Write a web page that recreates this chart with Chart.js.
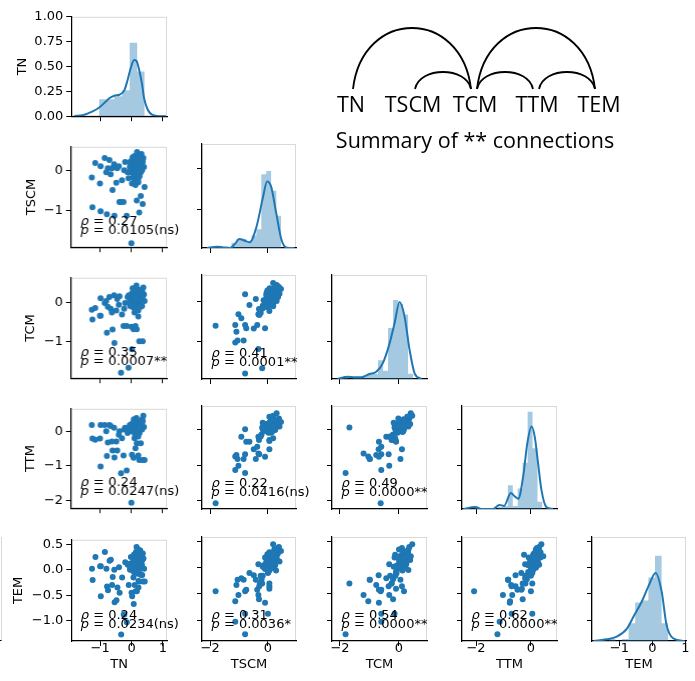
<!DOCTYPE html>
<html>
<head>
<meta charset="utf-8">
<script src="https://cdn.jsdelivr.net/npm/chart.js@4.4.0/dist/chart.umd.min.js"></script>
<style>
  body { margin: 0; background: #fff; width: 695px; height: 681px; position: relative; overflow: hidden; }
  canvas { position: absolute; }
  .edge { position: absolute; left: 0; top: 537px; width: 1px; height: 103px;
    border-right: 1px solid #d9d9d9; border-bottom: 1px solid #000; }
</style>
</head>
<body>
<div class="edge"></div>
<script>
// variables in the pair grid
const vars = ["TN", "TSCM", "TCM", "TTM", "TEM"];

// one value per sample, same sample order in every array
const TN = [0.05, 0.10, 0.15, 0.20, 0.25, 0.30, 0.00, 0.12, 0.18, 0.22,
  0.08, 0.28, 0.35, 0.02, 0.16, 0.26, 0.10, 0.32, 0.20, -0.05,
  0.14, 0.24, 0.06, 0.38, 0.30, 0.18, -0.02, 0.12, 0.22, 0.04,
  0.28, 0.40, 0.16, 0.10, 0.34, -0.08, 0.20, 0.08, 0.23, 0.13,
  0.33, 0.07, 0.19, 0.27, 0.11, 0.36, -0.04, 0.24,
  -1.26, -1.24, -1.15, -0.98, -0.98, -0.85, -0.78, -0.75, -0.80, -0.66,
  -0.60, -0.54, -0.48, -0.45, -0.38, -0.33, -0.25, -0.23, -0.15, -0.09,
  0.00, 0.02, 0.07, 0.13, 0.17, 0.25, 0.30, 0.36, 0.42, -1.00,
  -0.70, -0.55, -0.40, -0.30, -0.20, -0.12, -0.62, 0.22];
const TSCM = [0.10, 0.20, 0.05, 0.30, 0.15, 0.25, 0.00, -0.05, 0.12, 0.38,
  0.28, 0.05, 0.18, 0.15, -0.10, -0.15, 0.35, 0.40, 0.02, 0.08,
  0.22, 0.10, -0.18, 0.30, -0.05, 0.45, 0.22, 0.12, -0.22, 0.32,
  0.35, 0.08, 0.18, -0.28, 0.00, -0.05, 0.25, 0.05, 0.20, 0.08,
  0.12, 0.24, -0.02, 0.28, 0.14, 0.22, 0.18, 0.06,
  -0.18, -0.92, 0.18, 0.10, -1.02, 0.30, -1.09, 0.05, -0.05, -0.10,
  -0.49, -1.13, -0.31, 0.05, -0.79, -0.79, -0.79, 0.00, -1.13, -0.20,
  -1.81, -0.33, -0.10, -0.37, -0.75, -1.05, -0.64, -0.84, -0.42, -0.33,
  0.25, 0.15, 0.10, -0.25, 0.20, -0.05, 0.05, -0.30];
const TCM = [0.15, 0.20, 0.10, 0.25, 0.05, 0.30, 0.00, 0.08, 0.18, 0.35,
  0.12, 0.20, 0.28, 0.25, -0.05, 0.02, 0.22, 0.18, -0.10, 0.05,
  0.32, 0.12, -0.12, 0.40, 0.15, 0.30, 0.10, -0.02, -0.20, 0.38,
  0.10, 0.22, 0.45, -0.25, -0.08, 0.20, 0.08, 0.30, 0.14, 0.04,
  0.24, 0.18, 0.26, 0.06, 0.12, 0.16, -0.08, 0.32,
  -0.18, -0.43, -0.13, 0.12, -0.33, 0.00, -0.77, -0.10, 0.05, -0.15,
  -0.69, -1.04, -0.20, 0.10, 0.17, -1.81, -0.60, -0.15, -0.60, -1.68,
  -0.62, -1.20, -0.68, -0.60, -0.68, -0.99, -0.10, -0.99, 0.05, -0.33,
  0.15, 0.20, -0.05, -0.30, 0.00, 0.15, -0.25, -0.35];
const TTM = [0.10, 0.15, 0.05, 0.20, 0.10, 0.25, 0.00, 0.12, 0.22, 0.30,
  0.05, 0.18, 0.35, 0.22, 0.02, -0.05, 0.12, 0.08, -0.10, 0.18,
  0.28, 0.25, 0.00, 0.45, 0.15, 0.20, 0.08, 0.30, -0.15, 0.15,
  0.22, 0.12, 0.38, -0.20, 0.05, 0.10, -0.02, 0.35, 0.06, 0.20,
  0.10, 0.26, 0.14, 0.16, -0.08, 0.28, 0.04, 0.08,
  0.18, -0.21, -0.25, 0.18, -1.02, 0.18, -0.72, -0.33, 0.00, 0.15,
  -0.56, -0.76, -0.30, -0.56, 0.00, -1.22, -0.70, 0.05, -1.14, 0.05,
  -2.07, -0.68, -0.77, -0.49, -0.35, -0.83, -0.35, -0.83, -0.83, -0.21,
  0.18, 0.10, -0.10, -0.20, 0.10, -0.05, -0.30, -0.70];
const TEM = [0.15, 0.20, 0.10, 0.25, 0.05, 0.30, 0.00, 0.18, 0.12, 0.40,
  -0.05, 0.22, 0.20, 0.08, -0.02, 0.05, 0.28, 0.12, -0.08, 0.00,
  0.35, 0.18, -0.15, 0.22, 0.10, 0.32, 0.25, 0.06, -0.22, 0.15,
  0.38, 0.02, 0.45, -0.30, -0.10, 0.12, 0.05, 0.30, 0.16, 0.22,
  0.08, 0.10, 0.26, 0.14, 0.20, 0.32, 0.04, -0.04,
  0.02, -0.20, 0.25, 0.07, -0.52, 0.35, -0.33, -0.40, 0.02, 0.20,
  -0.14, -0.64, -0.60, -0.35, -0.45, -1.27, -0.88, -0.88, -1.03, -0.30,
  -0.45, -0.52, -0.67, -0.42, -0.42, -0.23, -0.10, -0.23, -0.23, 0.07,
  0.18, 0.00, 0.05, -0.15, 0.15, 0.10, -0.30, -0.35];
const samples = [TN, TSCM, TCM, TTM, TEM];

// diagonal histograms (bin left edges + last right edge, heights as share of the panel)
const tnBinEdges = [-1.76, -1.52, -1.28, -1.03, -0.79, -0.55, -0.30, -0.06, 0.18, 0.42];
const tnBinHeights = [0.01, 0, 0, 0.17, 0.17, 0.20, 0.26, 0.74, 0.45];
const tscmBinEdges = [-1.94, -1.77, -1.60, -1.43, -1.26, -1.09, -0.91, -0.74, -0.57, -0.40, -0.23, -0.06, 0.11, 0.29, 0.46];
const tscmBinHeights = [0.016, 0, 0, 0, 0.05, 0.09, 0.09, 0.05, 0.12, 0.18, 0.71, 0.74, 0.55, 0.31];
const tcmBinEdges = [-1.90, -1.73, -1.56, -1.39, -1.22, -1.05, -0.88, -0.71, -0.54, -0.37, -0.20, -0.03, 0.14, 0.31, 0.48];
const tcmBinHeights = [0.02, 0, 0.02, 0.02, 0.03, 0.05, 0.05, 0.18, 0.08, 0.49, 0.76, 0.72, 0.62, 0.05];
const ttmBinEdges = [-2.10, -1.92, -1.74, -1.56, -1.38, -1.20, -1.02, -0.84, -0.66, -0.48, -0.30, -0.12, 0.06, 0.24, 0.42];
const ttmBinHeights = [0.026, 0, 0, 0, 0, 0.02, 0.03, 0.23, 0.03, 0.20, 0.45, 0.945, 0.59, 0.07];
const temBinEdges = [-1.32, -1.12, -0.92, -0.72, -0.52, -0.32, -0.12, 0.08, 0.28, 0.48];
const temBinHeights = [0.02, 0, 0.02, 0.17, 0.37, 0.39, 0.61, 0.82, 0.17];

// kde curves
const tnKdeX = [-1.82, -1.56, -1.24, -1.03, -0.81, -0.71, -0.55, -0.39, -0.23, -0.13, -0.02, 0.085, 0.16, 0.24, 0.33, 0.40, 0.51, 0.67, 0.98, 1.10];
const tnKdeY = [0.003, 0.01, 0.048, 0.087, 0.15, 0.18, 0.206, 0.216, 0.26, 0.36, 0.49, 0.565, 0.555, 0.47, 0.33, 0.18, 0.07, 0.013, 0, 0];
const tscmKdeX = [-2.11, -1.77, -1.54, -1.31, -1.14, -0.99, -0.80, -0.63, -0.40, -0.17, -0.03, 0.11, 0.29, 0.46, 0.63, 0.91];
const tscmKdeY = [0, 0.013, 0.006, 0, 0.04, 0.087, 0.07, 0.055, 0.20, 0.49, 0.64, 0.59, 0.33, 0.087, 0.006, 0];
const tcmKdeX = [-2.08, -1.74, -1.51, -1.28, -1.00, -0.77, -0.55, -0.32, -0.15, 0.02, 0.19, 0.36, 0.53, 0.76];
const tcmKdeY = [0, 0.022, 0.016, 0.016, 0.048, 0.07, 0.15, 0.34, 0.535, 0.74, 0.60, 0.28, 0.055, 0];
const ttmKdeX = [-2.46, -2.04, -1.80, -1.38, -1.15, -0.98, -0.73, -0.58, -0.46, -0.28, -0.13, 0.02, 0.14, 0.26, 0.38, 0.56, 0.80];
const ttmKdeY = [0, 0.02, 0, 0, 0.04, 0.03, 0.155, 0.12, 0.10, 0.32, 0.64, 0.80, 0.70, 0.445, 0.19, 0.02, 0];
const temKdeX = [-1.78, -1.38, -1.08, -0.77, -0.57, -0.32, -0.12, 0.10, 0.28, 0.43, 0.63, 0.98];
const temKdeY = [0, 0.016, 0.042, 0.12, 0.235, 0.38, 0.525, 0.655, 0.48, 0.155, 0.026, 0];

const binEdges = [tnBinEdges, tscmBinEdges, tcmBinEdges, ttmBinEdges, temBinEdges];
const binHeights = [tnBinHeights, tscmBinHeights, tcmBinHeights, ttmBinHeights, temBinHeights];
const kdeX = [tnKdeX, tscmKdeX, tcmKdeX, ttmKdeX, temKdeX];
const kdeY = [tnKdeY, tscmKdeY, tcmKdeY, ttmKdeY, temKdeY];

// correlation labels, lower triangle in row order
const pairRows = [1, 2, 2, 3, 3, 3, 4, 4, 4, 4];
const pairCols = [0, 0, 1, 0, 1, 2, 0, 1, 2, 3];
const rhoLabels = ["0.27", "0.35", "0.41", "0.24", "0.22", "0.49", "0.24", "0.31", "0.54", "0.62"];
const pLabels = ["0.0105(ns)", "0.0007**", "0.0001**", "0.0247(ns)", "0.0416(ns)", "0.0000**",
  "0.0234(ns)", "0.0036*", "0.0000**", "0.0000**"];

// axis ticks
const xTickValues = [[-1, 0, 1], [-2, 0], [-2, 0], [-2, 0], [-1, 0, 1]];
const yTickValues = [[0, 0.25, 0.5, 0.75, 1], [-1, 0], [-1, 0], [-2, -1, 0], [-1, -0.5, 0, 0.5]];
const yTickDigits = [2, 0, 0, 0, 1];

// summary arcs
const nodes = ["TN", "TSCM", "TCM", "TTM", "TEM"];
const links = [["TN", "TCM"], ["TSCM", "TCM"], ["TCM", "TTM"], ["TCM", "TEM"], ["TTM", "TEM"]];

// ---- layout ----
const colLeft = [71, 202, 332, 462, 592];
const colWidth = [96, 94, 95, 95, 94];
const rowTop = [14, 144, 275, 406, 537];
const rowHeight = [103, 104, 104, 103, 104];
const xLimits = [[-1.92, 1.13], [-2.28, 0.97], [-2.27, 0.95], [-2.51, 0.95], [-1.83, 1.02]];
const yLimits = [[0, 1], [-1.91, 0.58], [-1.95, 0.65], [-2.23, 0.65], [-1.40, 0.59]];
const yTitleCenter = [22.5, 32, 31, 31, 18.5];

const BLUE = "#1f77b4";
const FONT = "DejaVu Sans";
Chart.defaults.font.family = FONT;
Chart.defaults.font.size = 13;
Chart.defaults.color = "#000";

const minus = s => s.replace("-", "\u2212");

function addCanvas(left, top, w, h) {
  const cv = document.createElement("canvas");
  cv.width = w; cv.height = h;
  cv.style.left = left + "px"; cv.style.top = top + "px";
  cv.style.width = w + "px"; cv.style.height = h + "px";
  document.body.appendChild(cv);
  return cv;
}

// light grey top/right spines
const frame = {
  id: "frame",
  beforeDraw(chart) {
    const a = chart.chartArea, ctx = chart.ctx;
    ctx.save();
    ctx.strokeStyle = "#d9d9d9";
    ctx.lineWidth = 1;
    ctx.strokeRect(a.left + 0.5, a.top + 0.5, a.right - a.left - 1, a.bottom - a.top - 1);
    ctx.restore();
  }
};

// rho / p text in the lower-left corner
const corrText = {
  id: "corrText",
  afterDraw(chart, args, opts) {
    if (!opts.rho) return;
    const a = chart.chartArea, ctx = chart.ctx;
    const x = a.left + 9.5;
    ctx.save();
    ctx.fillStyle = "#000";
    ctx.textBaseline = "alphabetic";
    [["\u03c1", " = " + opts.rho, a.bottom - 22], ["p", " = " + opts.p, a.bottom - 13]].forEach(([sym, rest, y]) => {
      ctx.font = "italic 13px " + FONT;
      ctx.fillText(sym, x, y);
      const w = ctx.measureText(sym).width;
      ctx.font = "13px " + FONT;
      ctx.fillText(rest, x + w, y);
    });
    ctx.restore();
  }
};

function panel(r, c) {
  const ML = c === 0 ? colLeft[0] - (yTitleCenter[r] - 7.8) : 12;
  const MT = 8, MR = 30;
  const MB = r === 4 ? 31 : 10;
  const cv = addCanvas(colLeft[c] - ML, rowTop[r] - MT, ML + colWidth[c] + MR, MT + rowHeight[r] + MB);

  const datasets = [];
  const scales = {
    x: {
      type: "linear", min: xLimits[c][0], max: xLimits[c][1],
      afterBuildTicks: s => { s.ticks = xTickValues[c].map(v => ({ value: v })); },
      afterFit: s => { s.height = MB; },
      ticks: { display: r === 4, padding: -5, maxRotation: 0, autoSkip: false,
        callback: v => minus(String(v)) },
      grid: { display: true, drawOnChartArea: false, tickLength: 5, tickColor: "#000", tickWidth: 1 },
      border: { display: true, color: "#000", width: 1.2 },
      title: { display: r === 4, text: vars[c], padding: 0 }
    },
    y: {
      type: "linear", min: yLimits[r][0], max: yLimits[r][1],
      afterBuildTicks: s => { s.ticks = yTickValues[r].map(v => ({ value: v })); },
      afterFit: s => { s.width = ML; },
      ticks: { display: c === 0, padding: 3, autoSkip: false,
        callback: v => minus(v.toFixed(yTickDigits[r])) },
      grid: { display: true, drawOnChartArea: false, tickLength: 5, tickColor: "#000", tickWidth: 1 },
      border: { display: true, color: "#000", width: 1.2 },
      title: { display: c === 0, text: vars[r], padding: 0 }
    }
  };

  let corr = {};
  if (r === c) {
    const axis = r === 0 ? "y" : "yh";
    if (r !== 0) scales.yh = { type: "linear", display: false, min: 0, max: 1 };
    const edges = binEdges[c], hts = binHeights[c];
    datasets.push({
      type: "line", yAxisID: axis,
      data: edges.map((e, i) => ({ x: e, y: i < hts.length ? hts[i] : 0 })),
      stepped: "before", fill: "origin", borderWidth: 0, pointRadius: 0,
      backgroundColor: "rgba(31,119,180,0.4)", borderColor: "rgba(0,0,0,0)"
    });
    datasets.push({
      type: "line", yAxisID: axis,
      data: kdeX[c].map((v, i) => ({ x: v, y: kdeY[c][i] })),
      cubicInterpolationMode: "monotone", borderColor: BLUE, borderWidth: 2,
      pointRadius: 0, fill: false
    });
  } else {
    datasets.push({
      type: "scatter",
      data: samples[c].map((v, i) => ({ x: v, y: samples[r][i] })),
      pointRadius: 3, pointBackgroundColor: BLUE, pointBorderWidth: 0, borderColor: BLUE
    });
    const k = pairRows.findIndex((pr, i) => pr === r && pairCols[i] === c);
    corr = { rho: rhoLabels[k], p: pLabels[k] };
  }

  new Chart(cv, {
    type: "scatter",
    data: { datasets },
    options: {
      responsive: false, animation: false, devicePixelRatio: 1, events: [],
      layout: { padding: { top: MT, right: MR, left: 0, bottom: 0 } },
      plugins: { legend: { display: false }, tooltip: { enabled: false }, corrText: corr },
      scales
    },
    plugins: [frame, corrText]
  });
}

for (let r = 0; r < 5; r++) {
  for (let c = 0; c <= r; c++) panel(r, c);
}

// arc summary of ** connections
const arcs = {
  id: "arcs",
  afterDraw(chart) {
    const ctx = chart.ctx, xs = chart.scales.x, ys = chart.scales.y;
    ctx.save();
    ctx.strokeStyle = "#000";
    ctx.lineWidth = 1.8;
    links.forEach(([a, b]) => {
      const i = nodes.indexOf(a), j = nodes.indexOf(b);
      const x1 = xs.getPixelForValue(i) + 2, x2 = xs.getPixelForValue(j) - 4;
      const y0 = ys.getPixelForValue(0);
      const rise = j - i > 1 ? 61 : 17;
      const k = rise / 0.75;
      const w = x2 - x1;
      ctx.beginPath();
      ctx.moveTo(x1, y0);
      ctx.bezierCurveTo(x1 + 0.08 * w, y0 - k, x2 - 0.08 * w, y0 - k, x2, y0);
      ctx.stroke();
    });
    ctx.restore();
  }
};

new Chart(addCanvas(320, 0, 310, 155), {
  type: "line",
  data: { labels: nodes, datasets: [] },
  options: {
    responsive: false, animation: false, devicePixelRatio: 1, events: [],
    layout: { padding: 0 },
    plugins: { legend: { display: false }, tooltip: { enabled: false } },
    scales: {
      x: {
        type: "category", offset: true,
        afterFit: s => { s.height = 155 - 89; },
        grid: { display: false, drawTicks: false },
        border: { display: false },
        ticks: { padding: 4, autoSkip: false, maxRotation: 0, minRotation: 0,
          font: { family: "Open Sans", size: 21.5 }, color: "#000" },
        title: { display: true, text: "Summary of ** connections", padding: 0,
          font: { family: "Open Sans", size: 21.5 }, color: "#000" }
      },
      y: { display: false, min: 0, max: 89 }
    }
  },
  plugins: [arcs]
});
</script>
</body>
</html>
